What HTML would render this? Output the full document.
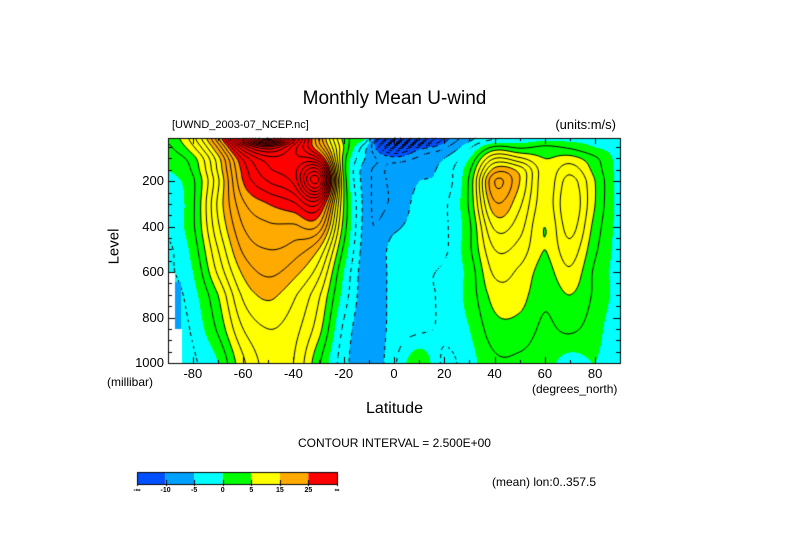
<!DOCTYPE html>
<html><head><meta charset="utf-8">
<style>
body{margin:0;background:#fff;}
#wrap{position:relative;width:789px;height:558px;overflow:hidden;font-family:"Liberation Sans",sans-serif;color:#000;}
.t{position:absolute;white-space:nowrap;}
</style></head>
<body>
<div id="wrap">
<canvas id="cv" width="789" height="558" style="position:absolute;left:0;top:0"></canvas>
<div class="t" style="left:0;width:789px;text-align:center;top:88px;font-size:19px;">Monthly Mean U-wind</div>
<div class="t" style="left:172px;top:119px;font-size:11px;">[UWND_2003-07_NCEP.nc]</div>
<div class="t" style="right:173px;top:117px;font-size:13px;">(units:m/s)</div>
<div class="t" style="left:96px;top:238px;font-size:15px;transform:rotate(-90deg);">Level</div>
<div class="t" style="left:107px;top:375px;font-size:12px;">(millibar)</div>
<div class="t" style="left:532px;top:382px;font-size:12px;">(degrees_north)</div>
<div class="t" style="left:0;width:789px;text-align:center;top:400px;font-size:16px;">Latitude</div>
<div class="t" style="left:0;width:789px;text-align:center;top:436px;font-size:12px;">CONTOUR INTERVAL = 2.500E+00</div>
<div class="t" style="left:492px;top:475px;font-size:12px;">(mean) lon:0..357.5</div>
<div id="labels"></div>
</div>
<script>
const lats=[-90,-80,-70,-60,-50,-40,-30,-20,-10,0,10,20,30,40,50,60,70,80,90];
const levels=[10,50,100,150,200,300,400,500,600,700,850,1000];
const u10=[3,9,22,45,60,40,20,4,-3,-45,-30,-12,-6,-3,-2,-1,-1,-1,-2];
const u50=[2,7,18,35,42,34,22,5,-6,-20,-12,-8,-3,3,2,3,2,0,-1];
const u100=[1,4,14,28,34,33,30,4,-6,-9,-7,-5,0,10,8,5,6,3,-1];
const u150=[0,3,13,26,32,34,40,4,-7,-7,-6,-4,2,16,14,6,9,4,-1];
const u200=[-1,2,12,25,30,33,45,5,-7,-7,-5,-4,3,20,15,6,11,5,-1];
const u300=[-2,2,13,22,25,27,30,5,-7,-7,-4,-3,3,17,13,6,12,5,-1];
const u400=[-2,2,12,20,22,22,22,4,-7,-5.5,-4,-3,2,13,11,5,11,4,-1];
const u500=[-3,1,10,18,20,19,15,2,-7,-4,-4,-3,2,10,9,5,9,3,-1];
const u600=[-3,0,8,15.5,18,16,11,0,-7,-4,-3,-2,1,8,7,4,7,2,-1];
const u700=[-4,-1,5,13,15.5,13,8,-1,-7,-4,-3,-2,1,6,6,3,5,2,-1];
const u850=[-5,-2,3,10,12.5,11,6,-3,-7,-4,-3,-2,0,4,4,2,3,1,-2];
const u1000=[-6,-3,0,7,11,10,3,-4,-7,-3,2,-3,-1,2,2,1,-1,0,-2];
const grid=[u10,u50,u100,u150,u200,u300,u400,u500,u600,u700,u850,u1000];
const yTicks=[200,400,600,800,1000];
const xTicks=[-80,-60,-40,-20,0,20,40,60,80];
const cbLabels=["-∞","-10","-5","0","5","15","25","∞"];
const thresholds=[-10,-5,0,5,15,25];
const colors=["#0050ff","#00a0ff","#00ffff","#00ff00","#ffff00","#ffaa00","#ff0000"];

const X0=168,X1=620,Y0=138,Y1=363;
const xs=lat=>394+lat*2.514;
const ys=p=>Y1-(1000-p)*(Y1-Y0)/990;
const latOf=x=>(x-394)/2.514;
const pOf=y=>1000-(Y1-y)*990/(Y1-Y0);

function cr(p0,p1,p2,p3,t){return 0.5*((2*p1)+(-p0+p2)*t+(2*p0-5*p1+4*p2-p3)*t*t+(-p0+3*p1-3*p2+p3)*t*t*t);}
function G(j,i){j=Math.max(0,Math.min(levels.length-1,j));i=Math.max(0,Math.min(lats.length-1,i));return grid[j][i];}
function val(lat,p){
  let fi=(lat-lats[0])/10;fi=Math.max(0,Math.min(lats.length-1.0001,fi));
  let j=0;while(j<levels.length-2&&p>levels[j+1])j++;
  let fj=j+Math.max(0,Math.min(1,(p-levels[j])/(levels[j+1]-levels[j])));
  const i0=Math.floor(fi),ti=fi-i0,j0=Math.floor(fj),tj=fj-j0;
  const r=[];
  for(let k=-1;k<3;k++)r.push(cr(G(j0+k,i0-1),G(j0+k,i0),G(j0+k,i0+1),G(j0+k,i0+2),ti));
  return cr(r[0],r[1],r[2],r[3],tj);
}
function colorFor(v){let k=0;while(k<thresholds.length&&v>=thresholds[k])k++;return colors[k];}

const c=document.getElementById('cv').getContext('2d');
for(let y=Y0;y<Y1;y++){for(let x=X0;x<X1;x++){c.fillStyle=colorFor(val(latOf(x+0.5),pOf(y+0.5)));c.fillRect(x,y,1,1);}}
const S=2,nx=Math.ceil((X1-X0)/S)+1,ny=Math.ceil((Y1-Y0)/S)+1;
const V=[];for(let j=0;j<ny;j++){V.push([]);for(let i=0;i<nx;i++)V[j].push(val(latOf(X0+i*S),pOf(Y0+j*S)));}
c.lineWidth=1;c.strokeStyle="#000";
for(let lv=-60;lv<=70;lv+=2.5){
  if(Math.abs(lv)<1e-6)continue;
  c.beginPath();
  for(let j=0;j<ny-1;j++)for(let i=0;i<nx-1;i++){
    if(lv<0&&((i+j)%4)>=2)continue;
    const a=V[j][i],b=V[j][i+1],d=V[j+1][i],e=V[j+1][i+1];
    const pts=[];
    const ed=(v1,v2,x1,y1,x2,y2)=>{if((v1<lv)!==(v2<lv)){const t=(lv-v1)/(v2-v1);pts.push([x1+(x2-x1)*t,y1+(y2-y1)*t]);}};
    const x=X0+i*S,y=Y0+j*S;
    ed(a,b,x,y,x+S,y);ed(b,e,x+S,y,x+S,y+S);ed(e,d,x+S,y+S,x,y+S);ed(d,a,x,y+S,x,y);
    for(let k=0;k+1<pts.length;k+=2){c.moveTo(pts[k][0],pts[k][1]);c.lineTo(pts[k+1][0],pts[k+1][1]);}
  }
  c.stroke();
}
c.fillStyle="#00a0ff";c.fillRect(X0+6,282,7,47);
c.fillStyle="#fff";c.fillRect(X0,273,7,Y1-273);c.fillRect(X0,329,14,Y1-329);
c.strokeStyle="#000";c.lineWidth=1;c.strokeRect(X0+0.5,Y0+0.5,X1-X0,Y1-Y0);
c.beginPath();
for(let p=50;p<=1000;p+=50){const y=Math.round(ys(p))+0.5;const L=(p%200===0)?7:4;c.moveTo(X0,y);c.lineTo(X0+L,y);c.moveTo(X1,y);c.lineTo(X1-L,y);}
for(let l=-80;l<=80;l+=10){const x=Math.round(xs(l))+0.5;const L=(l%20===0)?6:3;c.moveTo(x,Y1);c.lineTo(x,Y1-L);c.moveTo(x,Y0);c.lineTo(x,Y0+L);}
c.stroke();
const CB0=137,CBW=200/colors.length;
colors.forEach((col,k)=>{c.fillStyle=col;c.fillRect(CB0+k*CBW,472,CBW,13);});
c.strokeStyle="#000";c.strokeRect(CB0+0.5,472.5,200,12);
c.beginPath();for(let k=0;k<=colors.length;k++){const x=Math.round(CB0+k*CBW)+0.5;c.moveTo(x,480);c.lineTo(x,486);}c.stroke();

const lab=document.getElementById('labels');
function addT(txt,css,name){const d=document.createElement('div');d.className='t';d.textContent=txt;d.style.cssText=css;


lab.appendChild(d);}
yTicks.forEach(p=>addT(String(p),`right:${789-164}px;top:${ys(p)-8}px;font-size:13px;`,'y-tick-label'));
xTicks.forEach(l=>addT(String(l),`left:${xs(l)-20}px;width:40px;text-align:center;top:366px;font-size:13px;`,'x-tick-label'));
cbLabels.forEach((t,k)=>addT(t,`left:${CB0+k*CBW-12}px;width:24px;text-align:center;top:487px;font-size:7px;font-weight:bold;`,'colorbar-label'));
</script>
</body></html>
